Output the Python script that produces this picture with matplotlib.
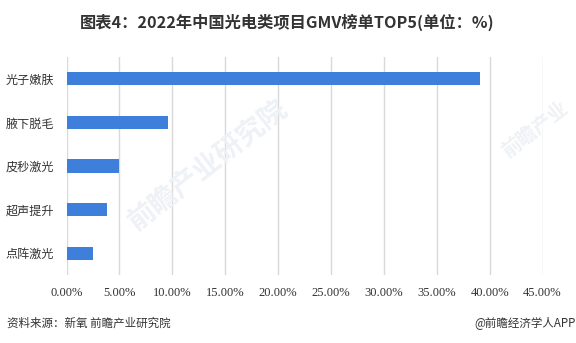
import matplotlib
matplotlib.use('Agg')

import matplotlib.pyplot as plt
from matplotlib.ticker import FuncFormatter

# data
categories = ['光子嫩肤', '腋下脱毛', '皮秒激光', '超声提升', '点阵激光']
values = [39.1, 9.6, 4.95, 3.8, 2.5]
xticks = [0, 5, 10, 15, 20, 25, 30, 35, 40, 45]

title = '图表4：2022年中国光电类项目GMV榜单TOP5(单位：%)'
source = '资料来源：新氧 前瞻产业研究院'
credit = '@前瞻经济学人APP'

cjk = ['Noto Sans CJK SC', 'DejaVu Sans']
plt.rcParams['font.family'] = cjk

DPI = 100
fig = plt.figure(figsize=(576 / DPI, 343 / DPI), dpi=DPI)
ax = fig.add_axes([66.5 / 576, 1 - 275 / 343, 476 / 576, 218 / 343])

# faint watermark
fig.text(0.36, 0.52, '前瞻产业研究院', rotation=38, fontsize=20, color='#eef1f5',
         ha='center', va='center', fontweight='bold', zorder=0)
fig.text(0.93, 0.62, '前瞻产业', rotation=38, fontsize=14, color='#eef1f5',
         ha='center', va='center', fontweight='bold', zorder=0)

ypos = list(range(len(categories)))
ax.barh(ypos, values, height=0.3, color='#3f7fdc', zorder=3)
ax.set_yticks(ypos)
ax.set_yticklabels(categories, fontsize=8.7, color='#333333')
ax.invert_yaxis()
ax.set_ylim(4.5, -0.5)

ax.set_xlim(0, 45)
ax.set_xticks(xticks)
ax.xaxis.set_major_formatter(FuncFormatter(lambda v, p: '%.2f%%' % v))
for lab in ax.get_xticklabels():
    lab.set_family(['Liberation Serif', 'DejaVu Serif'])
    lab.set_fontsize(9)
    lab.set_color('#333333')
ax.grid(axis='x', color='#d9d9d9', linewidth=1, zorder=0)
ax.set_axisbelow(True)
ax.tick_params(axis='both', length=0)
ax.tick_params(axis='x', pad=9)
ax.tick_params(axis='y', pad=9)
for s in ax.spines.values():
    s.set_visible(False)
ax.patch.set_alpha(0)

fig.text(0.498, 1 - 22.5 / 343, title, ha='center', va='center',
         fontsize=11.7, fontweight='bold', color='#333333')
fig.text(7 / 576, 1 - 323 / 343, source, ha='left', va='center',
         fontsize=8.3, color='#333333')
fig.text(0.999, 1 - 323 / 343, credit, ha='right', va='center',
         fontsize=8.3, color='#333333')

plt.savefig('out.png', dpi=DPI)
